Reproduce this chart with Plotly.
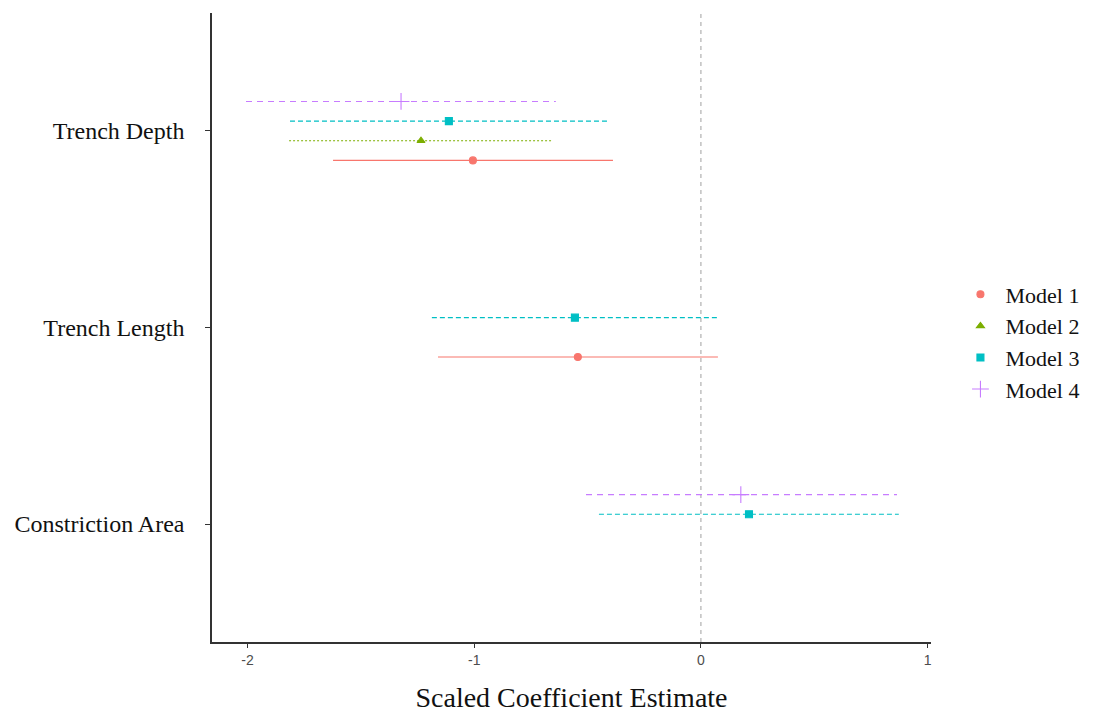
import plotly.graph_objects as go

# Coefficient estimates with 95% intervals per model
terms = ["Constriction Area", "Trench Length", "Trench Depth"]
models = ["Model 1", "Model 2", "Model 3", "Model 4"]

model1_term = ["Trench Depth", "Trench Length"]
model1_est = [-1.006, -0.543]
model1_lo = [-1.623, -1.160]
model1_hi = [-0.388, 0.075]

model2_term = ["Trench Depth"]
model2_est = [-1.235]
model2_lo = [-1.817]
model2_hi = [-0.657]

model3_term = ["Trench Depth", "Trench Length", "Constriction Area"]
model3_est = [-1.112, -0.556, 0.212]
model3_lo = [-1.813, -1.187, -0.450]
model3_hi = [-0.410, 0.071, 0.873]

model4_term = ["Trench Depth", "Constriction Area"]
model4_est = [-1.323, 0.176]
model4_lo = [-2.007, -0.507]
model4_hi = [-0.640, 0.865]

x_ticks = [-2, -1, 0, 1]

colors = ["#F8766D", "#7CAE00", "#00BFC4", "#C77CFF"]
symbols = ["circle", "triangle-up", "square", "cross-thin"]
dashes = ["solid", "2px,2px", "5px,3px", "6px,5px"]
dodge = [-0.15, -0.05, 0.05, 0.15]

series = [
    (model1_term, model1_est, model1_lo, model1_hi),
    (model2_term, model2_est, model2_lo, model2_hi),
    (model3_term, model3_est, model3_lo, model3_hi),
    (model4_term, model4_est, model4_lo, model4_hi),
]

serif = "Liberation Serif, Times New Roman, serif"

fig = go.Figure()

# zero reference line
fig.add_shape(type="line", x0=0, x1=0, y0=0, y1=1, xref="x", yref="paper",
              line=dict(color="#a0a0a0", width=1, dash="4px,4px"), layer="below")

for i, (name, (trm, est, lo, hi)) in enumerate(zip(models, series)):
    ys = [terms.index(t) + 1 + dodge[i] for t in trm]
    lx, ly = [], []
    for y, a, b in zip(ys, lo, hi):
        lx += [a, b, None]
        ly += [y, y, None]
    fig.add_trace(go.Scatter(
        x=lx, y=ly, mode="lines", legendgroup=name, showlegend=False,
        line=dict(color=colors[i], width=1.1, dash=dashes[i]), hoverinfo="skip"))
    fig.add_trace(go.Scatter(
        x=est, y=ys, mode="markers", name=name, legendgroup=name,
        marker=dict(color=colors[i], symbol=symbols[i],
                    size=12 if symbols[i] == "cross-thin" else 7,
                    line=dict(color=colors[i], width=1.1))))

fig.update_layout(
    width=1093, height=713,
    plot_bgcolor="white", paper_bgcolor="white",
    margin=dict(l=212, r=162, t=13, b=71, autoexpand=False),
    font=dict(family=serif, color="black"),
    legend=dict(x=1.034, xanchor="left", y=0.477, yanchor="middle",
                font=dict(size=22, family=serif, color="#111111"),
                bgcolor="rgba(0,0,0,0)", itemwidth=40, tracegroupgap=0),
    xaxis=dict(range=[-2.157, 1.015], tickvals=x_ticks,
               ticktext=[str(v) for v in x_ticks],
               showgrid=False, zeroline=False, showline=True,
               linecolor="#333333", linewidth=1.5, ticks="outside",
               ticklen=4, tickcolor="#333333",
               tickfont=dict(family="Liberation Sans, Arial, sans-serif", size=14, color="#4d4d4d"),
               title=dict(text="Scaled Coefficient Estimate", standoff=22,
                          font=dict(size=28, family=serif, color="#111111"))),
    yaxis=dict(range=[0.4, 3.6], tickvals=[1, 2, 3], ticktext=terms,
               showgrid=False, zeroline=False, showline=True,
               linecolor="#333333", linewidth=1.5, ticks="outside",
               ticklen=5, tickcolor="#333333", ticklabelstandoff=16,
               tickfont=dict(size=24, family=serif, color="#111111")),
)

fig.write_html("out.html")
